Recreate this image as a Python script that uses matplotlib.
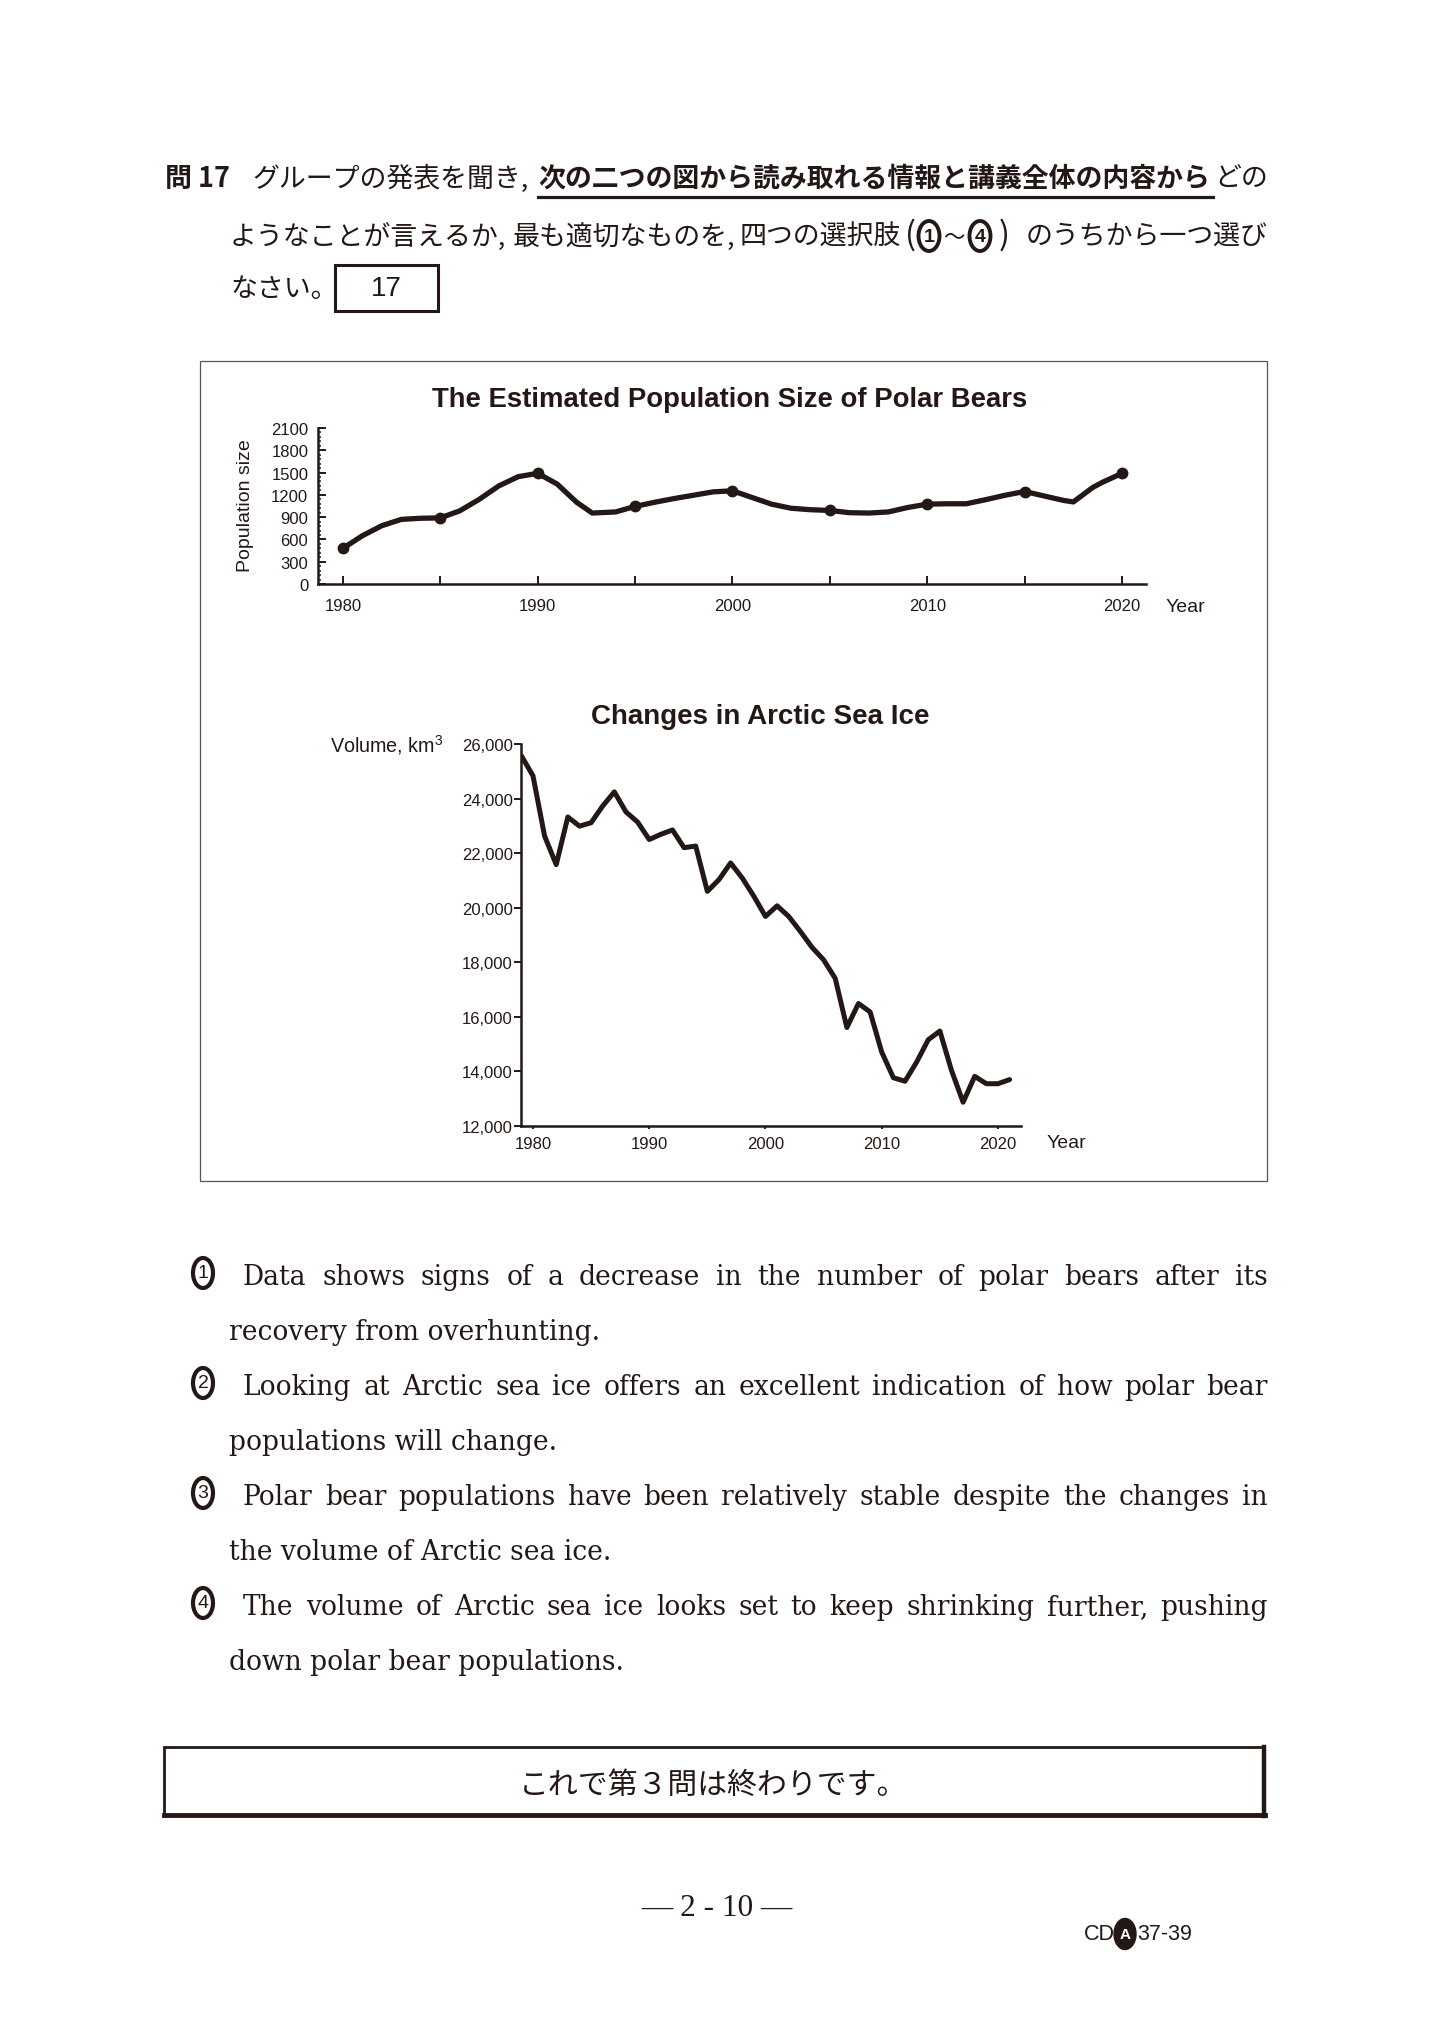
import matplotlib
matplotlib.use('Agg')
import matplotlib.pyplot as plt
from matplotlib.patches import Rectangle, Ellipse, Circle
from matplotlib.lines import Line2D
from matplotlib.ticker import FixedLocator

# ---------------- data ----------------
pop_years = [1980, 1981, 1982, 1983, 1984, 1985, 1986, 1987, 1988, 1989, 1990,
             1991, 1992, 1992.8, 1994, 1995, 1996, 1997, 1998, 1999, 2000,
             2001, 2002, 2003, 2004, 2005, 2006, 2007, 2008, 2009, 2010,
             2011, 2012, 2013, 2014, 2015, 2016, 2017, 2017.5, 2018.5, 2019, 2020]
pop_values = [480, 650, 785, 870, 885, 890, 985, 1140, 1320, 1445, 1490,
              1345, 1100, 955, 970, 1045, 1100, 1150, 1195, 1240, 1255,
              1165, 1075, 1020, 1000, 990, 960, 955, 970, 1030, 1075,
              1080, 1080, 1135, 1195, 1245, 1185, 1125, 1105, 1300, 1370, 1490]
pop_marker_years = [1980, 1985, 1990, 1995, 2000, 2005, 2010, 2015, 2020]
pop_yticks = [0, 300, 600, 900, 1200, 1500, 1800, 2100]
pop_xticks = [1980, 1985, 1990, 1995, 2000, 2005, 2010, 2015, 2020]
pop_xticklabels = ['1980', '', '1990', '', '2000', '', '2010', '', '2020']

ice_years = list(range(1979, 2022))
ice_volume = [25570, 24835, 22625, 21580, 23325, 22990, 23115, 23730, 24245, 23510,
              23140, 22500, 22690, 22850, 22200, 22260, 20600, 21030, 21640, 21090,
              20420, 19680, 20070, 19680, 19130, 18550, 18090, 17410, 15610, 16490,
              16180, 14710, 13770, 13640, 14340, 15160, 15480, 14040, 12870, 13820,
              13550, 13550, 13700]
ice_yticks = [12000, 14000, 16000, 18000, 20000, 22000, 24000, 26000]
ice_xticks = [1980, 1990, 2000, 2010, 2020]

choices = [
    ("1", "Data shows signs of a decrease in the number of polar bears after its",
     "recovery from overhunting."),
    ("2", "Looking at Arctic sea ice offers an excellent indication of how polar bear",
     "populations will change."),
    ("3", "Polar bear populations have been relatively stable despite the changes in",
     "the volume of Arctic sea ice."),
    ("4", "The volume of Arctic sea ice looks set to keep shrinking further, pushing",
     "down polar bear populations."),
]

# ---------------- setup ----------------
W, H = 1434, 2024
DPI = 100
INK = '#231815'
SANS = ['Liberation Sans', 'DejaVu Sans']
SERIF = ['DejaVu Serif', 'Liberation Serif']
JP = ['Noto Sans CJK JP', 'DejaVu Sans']

plt.rcParams['font.family'] = SANS
plt.rcParams['mathtext.fontset'] = 'custom'
plt.rcParams['mathtext.rm'] = 'Liberation Sans'
plt.rcParams['mathtext.it'] = 'Liberation Sans:italic'
plt.rcParams['mathtext.bf'] = 'Liberation Sans:bold'

fig = plt.figure(figsize=(W / DPI, H / DPI), dpi=DPI)
fig.patch.set_facecolor('white')
renderer = fig.canvas.get_renderer()


def fx(x):
    return x / W


def fy(y):
    return 1 - y / H


def ftext(x, y, s, **kw):
    kw.setdefault('color', INK)
    return fig.text(fx(x), fy(y), s, **kw)


# ---------------- header ----------------
JPS = 19.4
ftext(165, 179, '問 17', family=JP, fontweight='bold', fontsize=JPS, ha='left', va='center')
ftext(252, 179, 'グループの発表を聞き,', family=JP, fontsize=JPS, ha='left', va='center')
ftext(538, 179, '次の二つの図から読み取れる情報と講義全体の内容から', family=JP,
      fontweight='bold', fontsize=JPS, ha='left', va='center')
ftext(1214, 179, 'どの', family=JP, fontsize=JPS, ha='left', va='center')
fig.add_artist(Line2D([fx(538), fx(1213)], [fy(198), fy(198)], color=INK, lw=2.3))

ftext(230, 237, 'ようなことが言えるか,', family=JP, fontsize=JPS, ha='left', va='center')
ftext(513, 237, '最も適切なものを,', family=JP, fontsize=JPS, ha='left', va='center')
ftext(740, 237, '四つの選択肢', family=JP, fontsize=JPS, ha='left', va='center')
ftext(910, 235, '(', family=JP, fontsize=JPS + 4, ha='center', va='center')
ftext(1004, 235, ')', family=JP, fontsize=JPS + 4, ha='center', va='center')
ftext(954, 237, '～', family=JP, fontsize=JPS - 4, ha='center', va='center')
for cx, d in [(929, '1'), (980, '4')]:
    fig.add_artist(Ellipse((fx(cx), fy(237)), 21 / W, 30 / H, transform=fig.transFigure,
                           fill=False, ec=INK, lw=2.8))
    ftext(cx, 237, d, family=SANS, fontsize=14, fontweight='bold', ha='center', va='center')
ftext(1026, 237, 'のうちから一つ選び', family=JP, fontsize=JPS, ha='left', va='center')

ftext(230, 290, 'なさい。', family=JP, fontsize=JPS, ha='left', va='center')
fig.add_artist(Rectangle((fx(335), fy(312)), 103 / W, 46 / H, transform=fig.transFigure,
                         fill=False, ec=INK, lw=2.2))
ftext(386, 289, '17', family=SANS, fontsize=20, ha='center', va='center')

# ---------------- chart frame ----------------
fig.add_artist(Rectangle((fx(200), fy(1182)), 1067 / W, 820 / H, transform=fig.transFigure,
                         fill=False, ec='#555555', lw=0.9))

# ---------------- chart 1 ----------------
ax1 = fig.add_axes([fx(318), fy(585), (1146 - 318) / W, (585 - 429) / H])
ax1.plot(pop_years, pop_values, color=INK, lw=3.8, solid_joinstyle='round',
         solid_capstyle='round', zorder=3)
mvals = [pop_values[pop_years.index(y)] for y in pop_marker_years]
ax1.plot(pop_marker_years, mvals, 'o', ms=7.5, color=INK, zorder=4)
ax1.set_xlim(1978.72, 2021.23)
ax1.set_ylim(0, 2100)
for s in ['top', 'right']:
    ax1.spines[s].set_visible(False)
for s in ['left', 'bottom']:
    ax1.spines[s].set_linewidth(1.8)
    ax1.spines[s].set_color(INK)
ax1.set_xticks(pop_xticks)
ax1.set_xticklabels(pop_xticklabels)
ax1.set_yticks(pop_yticks)
ax1.set_yticklabels([str(v) for v in pop_yticks])
ax1.yaxis.set_minor_locator(FixedLocator(list(range(0, 2101, 60))))
ax1.tick_params(axis='x', direction='in', length=6, width=1.4, pad=10, labelsize=12,
                colors=INK)
ax1.tick_params(axis='y', which='major', direction='in', length=5.5, width=1.4, pad=7,
                labelsize=12, colors=INK)
ax1.tick_params(axis='y', which='minor', direction='in', length=2.5, width=1.1, colors=INK)
ax1.patch.set_alpha(0)

ftext(730, 400, 'The Estimated Population Size of Polar Bears', fontsize=19.8,
      fontweight='bold', ha='center', va='center')
ftext(246, 506, 'Population size', fontsize=14, rotation=90, ha='center', va='center')
ftext(1185, 608, 'Year', fontsize=14, ha='center', va='center')

# ---------------- chart 2 ----------------
ax2 = fig.add_axes([fx(521), fy(1127), (1021 - 521) / W, (1127 - 745) / H])
ax2.plot(ice_years, ice_volume, color=INK, lw=3.6, solid_joinstyle='round',
         solid_capstyle='round')
ax2.set_xlim(1978.97, 2021.98)
ax2.set_ylim(12000, 26000)
for s in ['top', 'right']:
    ax2.spines[s].set_visible(False)
for s in ['left', 'bottom']:
    ax2.spines[s].set_linewidth(1.8)
    ax2.spines[s].set_color(INK)
ax2.set_yticks(ice_yticks)
ax2.set_yticklabels([f'{v:,}' for v in ice_yticks])
ax2.set_xticks(ice_xticks)
ax2.set_xticklabels([str(v) for v in ice_xticks])
ax2.tick_params(axis='y', direction='out', length=5, width=1.4, pad=1, labelsize=12,
                colors=INK)
ax2.tick_params(axis='x', direction='out', length=2.5, width=1.4, pad=4.5, labelsize=12,
                colors=INK)
ax2.patch.set_alpha(0)

ftext(760, 717, 'Changes in Arctic Sea Ice', fontsize=20, fontweight='bold',
      ha='center', va='center')
ftext(443, 745, 'Volume, km$^3$', fontsize=14.2, ha='right', va='center')
ftext(1066, 1143, 'Year', fontsize=14, ha='center', va='center')

# ---------------- choices ----------------
# pick a serif size whose natural width matches the unjustified last lines
probe = [ftext(0, 0, c[2], family=SERIF, fontsize=20, ha='left', va='baseline')
         for c in choices]
natural = sum(t.get_window_extent(renderer).width for t in probe)
for t in probe:
    t.remove()
CS = 20 * (370 + 329 + 379 + 394) / natural


def justify(line, x0, x1, yb):
    words = line.split()
    ts = [ftext(0, yb, w, family=SERIF, fontsize=CS, ha='left', va='baseline') for w in words]
    widths = [t.get_window_extent(renderer).width for t in ts]
    gap = (x1 - x0 - sum(widths)) / (len(words) - 1)
    x = x0
    for t, wd in zip(ts, widths):
        t.set_position((fx(x), fy(yb)))
        x += wd + gap


base = 1285
step = 55
for i, (num, l1, l2) in enumerate(choices):
    y1 = base + step * 2 * i
    y2 = y1 + step
    fig.add_artist(Ellipse((fx(203), fy(y1 - 11)), 20 / W, 30 / H, transform=fig.transFigure,
                           fill=False, ec=INK, lw=3.0))
    ftext(203, y1 - 11, num, family=SANS, fontsize=14, ha='center', va='center')
    justify(l1, 243, 1268, y1)
    ftext(229, y2, l2, family=SERIF, fontsize=CS, ha='left', va='baseline')

# ---------------- closing box ----------------
fig.add_artist(Rectangle((fx(164), fy(1816)), 1100 / W, 68 / H, transform=fig.transFigure,
                         fill=False, ec=INK, lw=2.0))
fig.add_artist(Line2D([fx(164), fx(1265)], [fy(1816), fy(1816)], color=INK, lw=3.5))
fig.add_artist(Line2D([fx(1264), fx(1264)], [fy(1748), fy(1817)], color=INK, lw=3.2))
ftext(519, 1785, 'これで第３問は終わりです。', family=JP, fontsize=21.5, ha='left', va='center')

# ---------------- footer ----------------
ftext(717, 1909, '— 2 - 10 —', family=['Liberation Serif'], fontsize=22.5, ha='center',
      va='center')
ftext(1084, 1935, 'CD', family=SANS, fontsize=15.5, ha='left', va='center')
fig.add_artist(Circle((fx(1125), fy(1935)), 11 / W, transform=fig.transFigure,
                      color=INK))
ftext(1125, 1935, 'A', family=SANS, fontsize=11, fontweight='bold', color='white',
      ha='center', va='center')
ftext(1137, 1935, '37-39', family=SANS, fontsize=15.5, ha='left', va='center')

fig.savefig('out.png', dpi=DPI, facecolor='white')
